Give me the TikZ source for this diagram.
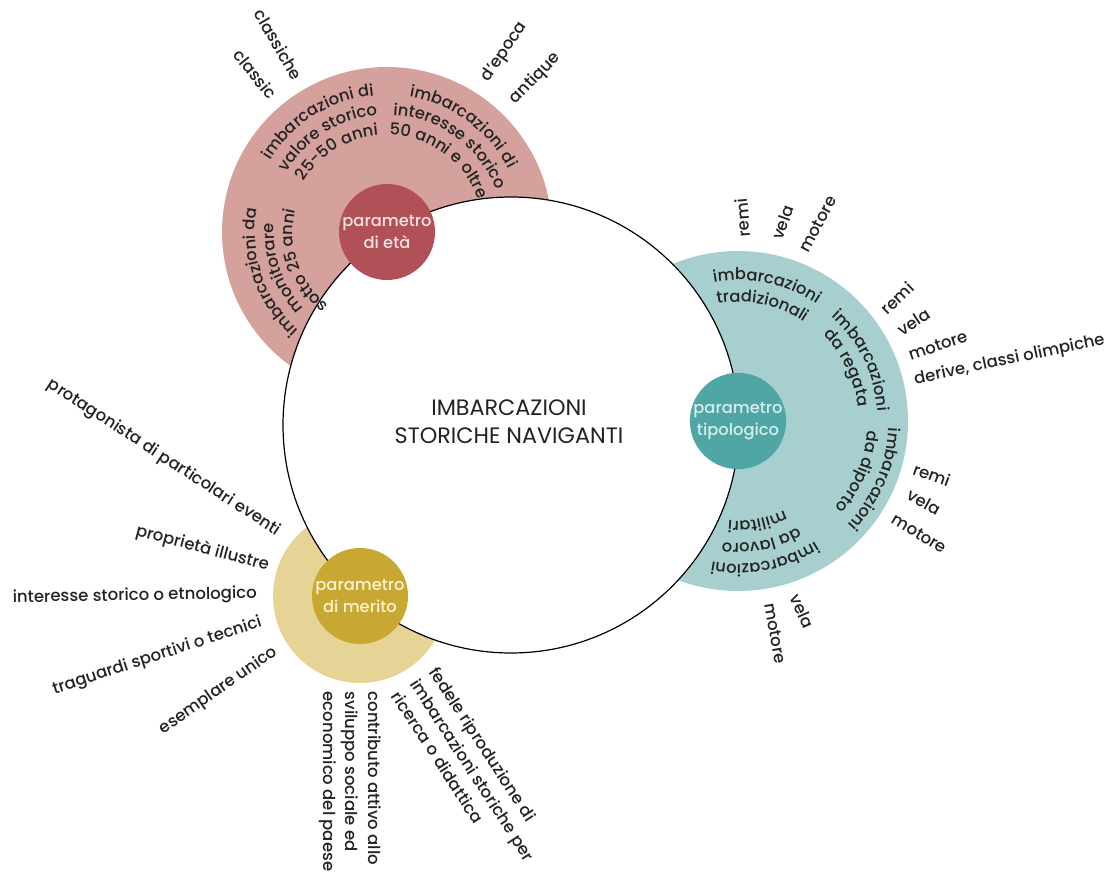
\documentclass[tikz,border=0pt]{standalone}
\usepackage{fontspec}
\setmainfont{Poppins Medium}
\newfontfamily\titlefont{Poppins}
\usetikzlibrary{decorations.text}
\definecolor{ink}{RGB}{35,35,35}
\definecolor{etaring}{RGB}{212,161,157}
\definecolor{etadot}{RGB}{178,80,88}
\definecolor{tiporing}{RGB}{168,207,207}
\definecolor{tipodot}{RGB}{80,165,165}
\definecolor{meritoring}{RGB}{230,212,150}
\definecolor{meritodot}{RGB}{200,168,50}
\tikzset{
	core/.style   = {draw=black, line width=1.2pt, fill=white, circle,
		minimum size=456pt, inner sep=0pt},
	title/.style  = {align=center, text=ink, inner sep=0pt,
		font=\titlefont\fontsize{22.3}{28}\selectfont},
	param/.style  = {circle, minimum size=96pt, inner sep=0pt, align=center,
		font=\fontsize{16.3}{21.5}\selectfont},
	lbl/.style    = {inner sep=1pt, text=ink, font=\fontsize{16.5}{22.5}\selectfont}
}
\newcommand{\ringfont}{\fontsize{16.3}{19}\selectfont}
% curved line of text: centre, angle, radius, text
\newcommand{\arcline}[4]{%
	\path[decorate, decoration={text along path, text align=center,
		text color=ink, text={|\ringfont|#4}}]
	([shift={(#2+70:#3)}]#1) arc[start angle=#2+70, end angle=#2-70, radius=#3];}

\begin{document}
\begin{tikzpicture}[x=1pt, y=1pt]
\useasboundingbox (0,0) rectangle (1114,-875);
% centres of the three parameters
\coordinate (ce) at (387,-232);
\coordinate (ct) at (738,-421);
\coordinate (cm) at (360,-596);

% rings
\fill[etaring] (ce) circle (165);
\fill[tiporing] (ct) circle (170);
\fill[meritoring] (cm) circle (87);

\node[core] (core) at (511,-425) {};
\node[title] (titolo) at (509,-422) {IMBARCAZIONI\\STORICHE NAVIGANTI};

\draw
node at (ce)[param, fill=etadot, text={rgb,255:red,246;green,228;blue,228}] (eta) {parametro\\di età}
node at (ct)[param, fill=tipodot, text={rgb,255:red,214;green,238;blue,238}] (tipo) {parametro\\tipologico}
node at (cm)[param, fill=meritodot, text={rgb,255:red,250;green,242;blue,214}] (merito) {parametro\\di merito};

% parametro di eta
\arcline{ce}{122}{137}{imbarcazioni di}
\arcline{ce}{122}{117}{valore storico}
\arcline{ce}{122}{97}{25-50 anni}
\arcline{ce}{54}{137}{imbarcazioni di}
\arcline{ce}{54}{117}{interesse storico}
\arcline{ce}{54}{97}{50 anni e oltre}
\arcline{ce}{199}{132}{imbarcazioni da}
\arcline{ce}{199}{113}{monitorare}
\arcline{ce}{199}{94}{sotto 25 anni}
\node[lbl, rotate=-60, anchor=east] (classiche) at ([shift={(120:176)}]ce) {classiche};
\node[lbl, rotate=-51, anchor=east] (classic) at ([shift={(130:176)}]ce) {classic};
\node[lbl, rotate=56, anchor=west] (depoca) at ([shift={(57:180)}]ce) {d'epoca};
\node[lbl, rotate=46, anchor=west] (antique) at ([shift={(46:180)}]ce) {antique};

% parametro tipologico
\arcline{ct}{78}{141}{imbarcazioni}
\arcline{ct}{78}{119}{tradizionali}
\arcline{ct}{26}{140}{imbarcazioni}
\arcline{ct}{26}{121}{da regata}
\arcline{ct}{-23}{151}{imbarcazioni}
\arcline{ct}{-23}{130}{da diporto}
\arcline{ct}{-79}{143}{imbarcazioni}
\arcline{ct}{-79}{122}{da lavoro}
\arcline{ct}{-79}{100}{militari}
\node[lbl, rotate=95, anchor=west] (remiA) at ([shift={(88:183)}]ct) {remi};
\node[lbl, rotate=70, anchor=west] (velaA) at ([shift={(78:185)}]ct) {vela};
\node[lbl, rotate=62, anchor=west] (motoreA) at ([shift={(69:181)}]ct) {motore};
\node[lbl, rotate=44, anchor=west] (remiB) at ([shift={(37:181)}]ct) {remi};
\node[lbl, rotate=33, anchor=west] (velaB) at ([shift={(29:183)}]ct) {vela};
\node[lbl, rotate=19, anchor=west] (motoreB) at ([shift={(21:182)}]ct) {motore};
\node[lbl, rotate=12, anchor=west] (derive) at ([shift={(13:180)}]ct) {derive, classi olimpiche};
\node[lbl, rotate=-20, anchor=west] (remiC) at ([shift={(-15:181)}]ct) {remi};
\node[lbl, rotate=-29, anchor=west] (velaC) at ([shift={(-23:184)}]ct) {vela};
\node[lbl, rotate=-31, anchor=west] (motoreC) at ([shift={(-32:182)}]ct) {motore};
\node[lbl, rotate=-66, anchor=west] (velaD) at ([shift={(-72:182)}]ct) {vela};
\node[lbl, rotate=-80, anchor=west] (motoreD) at ([shift={(-80:184)}]ct) {motore};

% parametro di merito
\node[lbl, rotate=-33, anchor=east] (eventi) at ([shift={(142:102)}]cm) {protagonista di particolari eventi};
\node[lbl, rotate=-15, anchor=east] (illustre) at ([shift={(162:95)}]cm) {proprietà illustre};
\node[lbl, rotate=1, anchor=east] (etno) at ([shift={(179:102)}]cm) {interesse storico o etnologico};
\node[lbl, rotate=18, anchor=east] (traguardi) at ([shift={(195:101)}]cm) {traguardi sportivi o tecnici};
\node[lbl, rotate=35, anchor=east] (unico) at ([shift={(213:99)}]cm) {esemplare unico};
\node[lbl, rotate=-90, anchor=west, align=left] (sviluppo) at ([shift={(264:95)}]cm) {contributo attivo allo\\sviluppo sociale ed\\economico del paese};
\node[lbl, rotate=-57, anchor=west, align=left] (fedele) at ([shift={(-57:100)}]cm) {fedele riproduzione di\\imbarcazioni storiche per\\ricerca o didattica};
\end{tikzpicture}
\end{document}
